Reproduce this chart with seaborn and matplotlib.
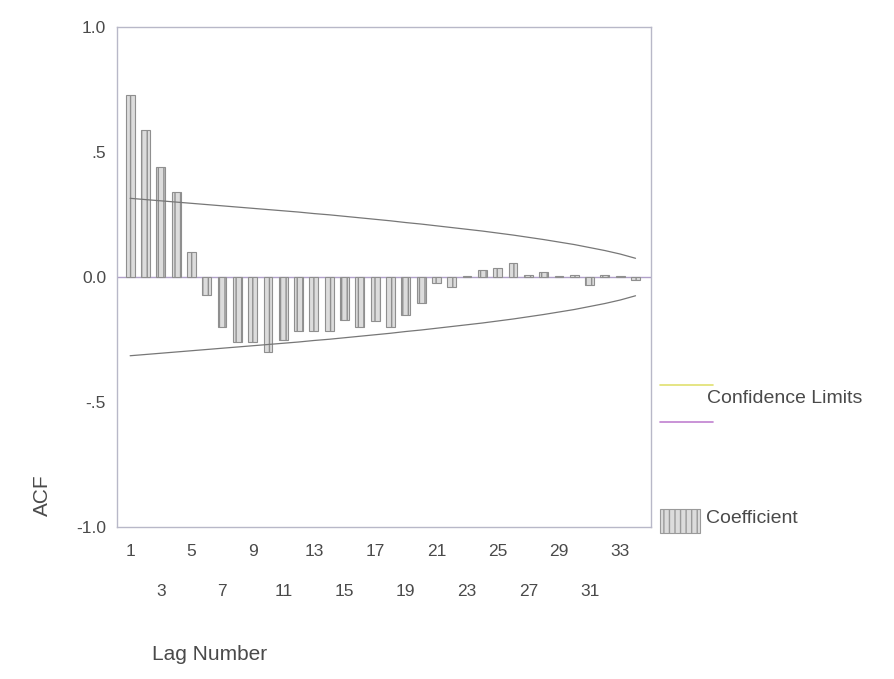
import numpy as np
import pandas as pd
import matplotlib
matplotlib.use("Agg")
import matplotlib.pyplot as plt
from matplotlib.lines import Line2D
from matplotlib.patches import Rectangle
import seaborn as sns

# valores (ACF por defasagem)
lags = list(range(1, 35))
acf = [0.73, 0.59, 0.44, 0.34, 0.10, -0.07, -0.20, -0.26, -0.26, -0.30,
       -0.25, -0.215, -0.215, -0.215, -0.17, -0.20, -0.175, -0.20, -0.15, -0.105,
       -0.025, -0.04, 0.005, 0.03, 0.035, 0.055, 0.01, 0.02, 0.005, 0.01,
       -0.03, 0.01, 0.003, -0.01]
# limites de confianca (estimados do grafico)
conf_sup = [0.315, 0.310, 0.305, 0.300, 0.295, 0.290, 0.285, 0.280, 0.275, 0.270,
            0.265, 0.260, 0.254, 0.249, 0.243, 0.237, 0.231, 0.225, 0.218, 0.212,
            0.205, 0.198, 0.191, 0.184, 0.176, 0.168, 0.159, 0.150, 0.140, 0.130,
            0.118, 0.106, 0.092, 0.075]
conf_inf = [-v for v in conf_sup]

yticks = [1.0, 0.5, 0.0, -0.5, -1.0]
ytick_labels = ["1.0", ".5", "0.0", "-.5", "-1.0"]
xticks_linha1 = [1, 5, 9, 13, 17, 21, 25, 29, 33]
xticks_linha2 = [3, 7, 11, 15, 19, 23, 27, 31]

df = pd.DataFrame({"lag": lags, "acf": acf, "sup": conf_sup, "inf": conf_inf})

sns.set_style("white")
plt.rcParams["font.family"] = ["Liberation Sans", "DejaVu Sans"]

cinza_txt = "#4a4a4a"
fig = plt.figure(figsize=(8.94, 6.79), dpi=100)
ax = fig.add_axes([0.131, 0.224, 0.597, 0.736])

sns.barplot(data=df, x="lag", y="acf", native_scale=True, width=0.58,
            color="#dcdcdc", edgecolor="#8f8f8f", linewidth=0.8, hatch="|||",
            ax=ax, saturation=1)
sns.lineplot(data=df, x="lag", y="sup", color="#777777", linewidth=0.9, ax=ax)
sns.lineplot(data=df, x="lag", y="inf", color="#777777", linewidth=0.9, ax=ax)
ax.axhline(0, color="#b0a0c8", linewidth=1.0, zorder=0.5)

ax.set_xlim(0.15, 35.0)
ax.set_ylim(-1.0, 1.0)
ax.set_yticks(yticks)
ax.set_yticklabels(ytick_labels)
ax.set_xticks(xticks_linha1)
ax.set_xticklabels([str(v) for v in xticks_linha1])
ax.set_xticks(xticks_linha2, minor=True)
ax.set_xticklabels([str(v) for v in xticks_linha2], minor=True)

ax.tick_params(axis="both", which="both", direction="out", length=4, width=0.8,
               color="#999999", labelcolor=cinza_txt, labelsize=12.5)
ax.tick_params(axis="x", which="major", pad=8)
ax.tick_params(axis="x", which="minor", pad=37)
ax.tick_params(axis="y", pad=4)

for s in ax.spines.values():
    s.set_visible(True)
    s.set_color("#b8b8c8")
    s.set_linewidth(1.0)

ax.set_xlabel("")
ax.set_ylabel("")
fig.text(0.170, 0.022, "Lag Number", fontsize=15, color=cinza_txt, ha="left", va="bottom")
fig.text(0.048, 0.27, "ACF", fontsize=15, color=cinza_txt, rotation=90, ha="center", va="center")

# legenda ao lado
fig.add_artist(Line2D([0.738, 0.797], [0.433, 0.433], color="#e0e070", linewidth=1.2))
fig.add_artist(Line2D([0.738, 0.797], [0.378, 0.378], color="#c080d0", linewidth=1.2))
fig.text(0.791, 0.413, "Confidence Limits", fontsize=14, color=cinza_txt, ha="left", va="center")
fig.add_artist(Rectangle((0.738, 0.215), 0.045, 0.036, transform=fig.transFigure,
                         facecolor="#dcdcdc", edgecolor="#9a9a9a", hatch="|||", linewidth=0.8))
fig.text(0.79, 0.236, "Coefficient", fontsize=14, color=cinza_txt, ha="left", va="center")

fig.savefig("out.png", dpi=100)
